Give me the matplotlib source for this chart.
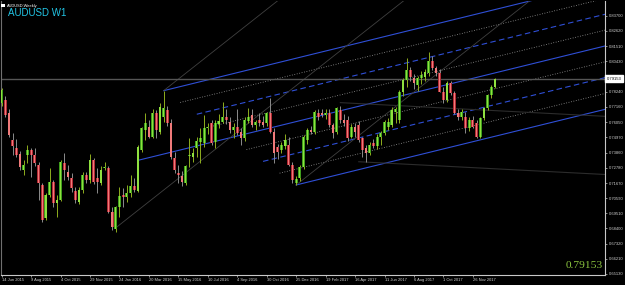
import numpy as np
import matplotlib
matplotlib.use("Agg")
import matplotlib.pyplot as plt
from matplotlib.patches import Rectangle
import matplotlib.transforms as mtransforms

W, H = 625, 285

# weekly AUDUSD bars, first bar = week of 14 Jun 2015
opens = [0.7740, 0.7764, 0.7668, 0.7476, 0.7417, 0.7373, 0.7261, 0.7368, 0.7404, 0.7368,
         0.7297, 0.7153, 0.6913, 0.7081, 0.7177, 0.7021, 0.7045, 0.7309, 0.7248, 0.7201,
         0.7110, 0.7033, 0.7117, 0.7225, 0.7189, 0.7333, 0.7201, 0.7165, 0.7275, 0.7277,
         0.6961, 0.6835, 0.6997, 0.7081, 0.7064, 0.7097, 0.7146, 0.7112, 0.7404, 0.7548,
         0.7572, 0.7500, 0.7668, 0.7536, 0.7644, 0.7692, 0.7596, 0.7349, 0.7241, 0.7218,
         0.7165, 0.7360, 0.7352, 0.7417, 0.7464, 0.7453, 0.7560, 0.7596, 0.7464, 0.7590,
         0.7608, 0.7644, 0.7608, 0.7548, 0.7572, 0.7536, 0.7488, 0.7615, 0.7656, 0.7584,
         0.7620, 0.7608, 0.7596, 0.7668, 0.7536, 0.7425, 0.7404, 0.7430, 0.7440, 0.7297,
         0.7165, 0.7201, 0.7284, 0.7476, 0.7548, 0.7536, 0.7668, 0.7673, 0.7656, 0.7668,
         0.7584, 0.7536, 0.7692, 0.7620, 0.7620, 0.7500, 0.7567, 0.7584, 0.7488, 0.7417,
         0.7381, 0.7453, 0.7430, 0.7495, 0.7524, 0.7572, 0.7584, 0.7680, 0.7620, 0.7824,
         0.7908, 0.7980, 0.7920, 0.7872, 0.7920, 0.7932, 0.7956, 0.8046, 0.7992, 0.7956,
         0.7824, 0.7764, 0.7884, 0.7812, 0.7668, 0.7644, 0.7644, 0.7560, 0.7620, 0.7596,
         0.7500, 0.7632, 0.7704, 0.7800, 0.7860]
highs = [0.7850, 0.7790, 0.7700, 0.7524, 0.7483, 0.7400, 0.7333, 0.7440, 0.7419, 0.7417,
         0.7320, 0.7165, 0.7093, 0.7273, 0.7190, 0.7081, 0.7330, 0.7382, 0.7297, 0.7240,
         0.7141, 0.7141, 0.7248, 0.7245, 0.7373, 0.7350, 0.7273, 0.7290, 0.7320, 0.7290,
         0.6997, 0.7005, 0.7141, 0.7129, 0.7150, 0.7225, 0.7200, 0.7440, 0.7570, 0.7668,
         0.7620, 0.7700, 0.7690, 0.7740, 0.7831, 0.7720, 0.7630, 0.7390, 0.7300, 0.7250,
         0.7300, 0.7488, 0.7420, 0.7500, 0.7560, 0.7656, 0.7600, 0.7620, 0.7620, 0.7660,
         0.7752, 0.7700, 0.7640, 0.7600, 0.7700, 0.7560, 0.7640, 0.7704, 0.7700, 0.7620,
         0.7670, 0.7650, 0.7680, 0.7778, 0.7560, 0.7450, 0.7460, 0.7520, 0.7500, 0.7320,
         0.7220, 0.7300, 0.7510, 0.7560, 0.7580, 0.7692, 0.7700, 0.7700, 0.7700, 0.7700,
         0.7600, 0.7716, 0.7720, 0.7660, 0.7650, 0.7590, 0.7600, 0.7610, 0.7500, 0.7440,
         0.7460, 0.7480, 0.7520, 0.7540, 0.7620, 0.7635, 0.7712, 0.7715, 0.7834, 0.7920,
         0.8064, 0.8000, 0.7950, 0.7940, 0.7970, 0.7990, 0.8111, 0.8080, 0.8010, 0.7990,
         0.7860, 0.7900, 0.7900, 0.7830, 0.7700, 0.7700, 0.7680, 0.7640, 0.7650, 0.7620,
         0.7645, 0.7715, 0.7810, 0.7870, 0.7920]
lows = [0.7720, 0.7640, 0.7500, 0.7368, 0.7356, 0.7261, 0.7225, 0.7309, 0.7212, 0.7290,
        0.7045, 0.6890, 0.6901, 0.7069, 0.6997, 0.6925, 0.7035, 0.7189, 0.7189, 0.7100,
        0.7021, 0.7015, 0.7093, 0.7170, 0.7165, 0.7160, 0.7093, 0.7150, 0.7261, 0.6949,
        0.6829, 0.6817, 0.6925, 0.6997, 0.7030, 0.7069, 0.7100, 0.7100, 0.7390, 0.7476,
        0.7490, 0.7488, 0.7490, 0.7520, 0.7608, 0.7580, 0.7340, 0.7240, 0.7165, 0.7145,
        0.7150, 0.7284, 0.7320, 0.7356, 0.7309, 0.7428, 0.7520, 0.7440, 0.7417, 0.7560,
        0.7596, 0.7590, 0.7530, 0.7490, 0.7510, 0.7441, 0.7470, 0.7596, 0.7570, 0.7550,
        0.7580, 0.7570, 0.7580, 0.7524, 0.7310, 0.7340, 0.7380, 0.7410, 0.7290, 0.7170,
        0.7153, 0.7180, 0.7270, 0.7450, 0.7520, 0.7520, 0.7620, 0.7640, 0.7630, 0.7570,
        0.7488, 0.7520, 0.7600, 0.7580, 0.7470, 0.7490, 0.7500, 0.7460, 0.7356, 0.7320,
        0.7370, 0.7420, 0.7410, 0.7440, 0.7510, 0.7550, 0.7570, 0.7600, 0.7600, 0.7790,
        0.7860, 0.7900, 0.7840, 0.7830, 0.7880, 0.7900, 0.7940, 0.7980, 0.7940, 0.7820,
        0.7740, 0.7750, 0.7800, 0.7660, 0.7620, 0.7620, 0.7530, 0.7540, 0.7560, 0.7493,
        0.7490, 0.7620, 0.7690, 0.7780, 0.7850]
closes = [0.7835, 0.7656, 0.7512, 0.7433, 0.7368, 0.7284, 0.7297, 0.7404, 0.7368, 0.7309,
          0.7165, 0.6901, 0.7081, 0.7177, 0.7021, 0.7045, 0.7320, 0.7261, 0.7212, 0.7129,
          0.7045, 0.7117, 0.7225, 0.7189, 0.7333, 0.7177, 0.7177, 0.7261, 0.7285, 0.6961,
          0.6853, 0.6997, 0.7074, 0.7064, 0.7097, 0.7146, 0.7117, 0.7424, 0.7560, 0.7601,
          0.7500, 0.7668, 0.7548, 0.7716, 0.7704, 0.7596, 0.7356, 0.7261, 0.7225, 0.7177,
          0.7290, 0.7372, 0.7386, 0.7471, 0.7488, 0.7560, 0.7572, 0.7453, 0.7596, 0.7615,
          0.7644, 0.7620, 0.7548, 0.7572, 0.7524, 0.7488, 0.7620, 0.7644, 0.7584, 0.7608,
          0.7596, 0.7584, 0.7668, 0.7536, 0.7380, 0.7390, 0.7440, 0.7476, 0.7297, 0.7189,
          0.7194, 0.7284, 0.7500, 0.7548, 0.7536, 0.7680, 0.7644, 0.7656, 0.7673, 0.7584,
          0.7524, 0.7704, 0.7620, 0.7596, 0.7488, 0.7572, 0.7536, 0.7476, 0.7404, 0.7381,
          0.7440, 0.7433, 0.7500, 0.7524, 0.7608, 0.7608, 0.7692, 0.7700, 0.7824, 0.7908,
          0.7980, 0.7932, 0.7884, 0.7920, 0.7944, 0.7967, 0.8046, 0.7992, 0.7956, 0.7824,
          0.7764, 0.7888, 0.7812, 0.7668, 0.7644, 0.7680, 0.7560, 0.7620, 0.7572, 0.7500,
          0.7632, 0.7704, 0.7800, 0.7860, 0.79153]

date_labels = ["14 Jun 2015", "9 Aug 2015", "4 Oct 2015", "29 Nov 2015", "24 Jan 2016",
               "20 Mar 2016", "15 May 2016", "10 Jul 2016", "4 Sep 2016", "30 Oct 2016",
               "25 Dec 2016", "19 Feb 2017", "16 Apr 2017", "11 Jun 2017", "6 Aug 2017",
               "1 Oct 2017", "26 Nov 2017"]
date_bars = list(range(0, 129, 8))

price_labels = [0.83700, 0.82620, 0.81510, 0.80430, 0.78240, 0.77160, 0.76050, 0.74970,
                0.73860, 0.72780, 0.71670, 0.70590, 0.69510, 0.68400, 0.67320, 0.66210,
                0.65130]
last_price = 0.79153

# pitchfork anchors (bar index, price)
fork_a = (37, 0.7330)
fork_b = (44, 0.7831)
fork_c = (80, 0.7153)
fork_levels = [1, 0.875, 0.75, 0.625, 0.5, 0.375, 0.25, 0.125, 0]
steep_a = (31, 0.6845)

# faint trend lines: start bar, start price, price per bar
faint_lines = [(92, 0.7745, -0.000137), (97, 0.7320, -0.000137)]

o = np.array(opens); h = np.array(highs); l = np.array(lows); c = np.array(closes)
x = np.arange(len(o))

fig = plt.figure(figsize=(W / 100, H / 100), dpi=100, facecolor="black")
ax = fig.add_axes([1 / W, 10 / H, 604 / W, 274 / H], facecolor="black")
ax.set_xlim(-0.19, 163.9)
ax.set_ylim(0.65056, 0.84757)

x_end = 170

# blue pitchfork with levels
mid_i = (fork_b[0] + fork_c[0]) / 2
mid_p = (fork_b[1] + fork_c[1]) / 2
slope = (mid_p - fork_a[1]) / (mid_i - fork_a[0])
for f in fork_levels:
    si = fork_c[0] + f * (fork_b[0] - fork_c[0])
    sp = fork_c[1] + f * (fork_b[1] - fork_c[1])
    if f == 0.5:
        si, sp = fork_a
    ep = sp + slope * (x_end - si)
    if f in (0, 0.5, 1):
        ax.plot([si, x_end], [sp, ep], color="#2f4fd6", lw=0.8, zorder=1)
    elif f in (0.25, 0.75):
        ax.plot([si, x_end], [sp, ep], color="#2f4fd6", lw=0.8, ls=(0, (5, 3)), zorder=1)
    else:
        ax.plot([si, x_end], [sp, ep], color="#9a9a9a", lw=0.6, ls=(0, (1, 2)), zorder=1)

# steep pitchfork (thin grey)
slope2 = (mid_p - steep_a[1]) / (mid_i - steep_a[0])
for si, sp in (steep_a, fork_b, fork_c):
    ax.plot([si, x_end], [sp, sp + slope2 * (x_end - si)], color="#404040", lw=0.6, zorder=1)

# faint dark lines
for si, sp, k in faint_lines:
    ax.plot([si, x_end], [sp, sp + k * (x_end - si)], color="#2c2c2c", lw=0.8, zorder=1)

# bid line
ax.axhline(last_price, color="#555555", lw=1.0, zorder=1)

# candles
bull = c >= o
lo = np.minimum(o, c)
bh = np.maximum(np.abs(c - o), 0.0006)
ax.vlines(x[bull], l[bull], h[bull], color="#8fae1e", lw=0.7, zorder=2)
ax.vlines(x[~bull], l[~bull], h[~bull], color="#8c8c8c", lw=0.7, zorder=2)
ax.bar(x[bull], bh[bull], bottom=lo[bull], width=0.75, color="#3f9e1c", lw=0, zorder=3)
ax.bar(x[bull], bh[bull], bottom=lo[bull], width=0.35, color="#8fe040", lw=0, zorder=4)
ax.bar(x[~bull], bh[~bull], bottom=lo[~bull], width=0.75, color="#b02a34", lw=0, zorder=3)
ax.bar(x[~bull], bh[~bull], bottom=lo[~bull], width=0.35, color="#f07a7a", lw=0, zorder=4)

# axes styling
ax.spines["top"].set_visible(False)
ax.spines["left"].set_color("#707070")
ax.spines["bottom"].set_color("#c8c8c8")
ax.spines["right"].set_color("#c8c8c8")
for s in ("left", "bottom", "right"):
    ax.spines[s].set_linewidth(0.8)

ax.yaxis.tick_right()
ax.set_yticks(price_labels)
ax.set_yticklabels([f"{p:.5f}" for p in price_labels])
ax.tick_params(axis="y", direction="out", length=1.5, width=0.5, color="#c8c8c8",
               labelsize=3.0, labelcolor="#d0d0d0", pad=1.2)
ax.set_xticks(date_bars)
ax.set_xticklabels(date_labels)
ax.tick_params(axis="x", direction="out", length=1.5, width=0.5, color="#c8c8c8",
               labelsize=2.9, labelcolor="#d0d0d0", pad=0.8)
for t in ax.get_xticklabels():
    t.set_horizontalalignment("left")
    t.set_fontfamily("Liberation Sans")
for t in ax.get_yticklabels():
    t.set_fontfamily("Liberation Sans")

# current price box on the scale
trans = mtransforms.blended_transform_factory(ax.transAxes, ax.transData)
ax.text(1.003, last_price, f"{last_price:.5f}", transform=trans, fontsize=3.0,
        family="Liberation Sans", color="black", va="center", ha="left", zorder=6,
        bbox=dict(boxstyle="square,pad=0.35", fc="white", ec="white"), clip_on=False)

# title texts
fig.patches.append(Rectangle((1.5 / W, 1 - 7 / H), 3 / W, 3 / H, transform=fig.transFigure,
                             facecolor="white", edgecolor="none"))
fig.text(7 / W, 1 - 5.5 / H, "AUDUSD,Weekly", fontsize=2.9, color="white",
         family="Liberation Sans", va="center", ha="left")
fig.text(8 / W, 1 - 12.5 / H, "AUDUSD W1", fontsize=7, color="#22c4e4",
         family="Liberation Sans", va="center", ha="left")

# big last price text
fig.text(603 / W, 1 - 268 / H, f"{last_price:.5f}", fontsize=8.2, color="#8cc63f",
         family="Liberation Serif", va="baseline", ha="right")

fig.savefig("out.png", dpi=100, facecolor="black")
